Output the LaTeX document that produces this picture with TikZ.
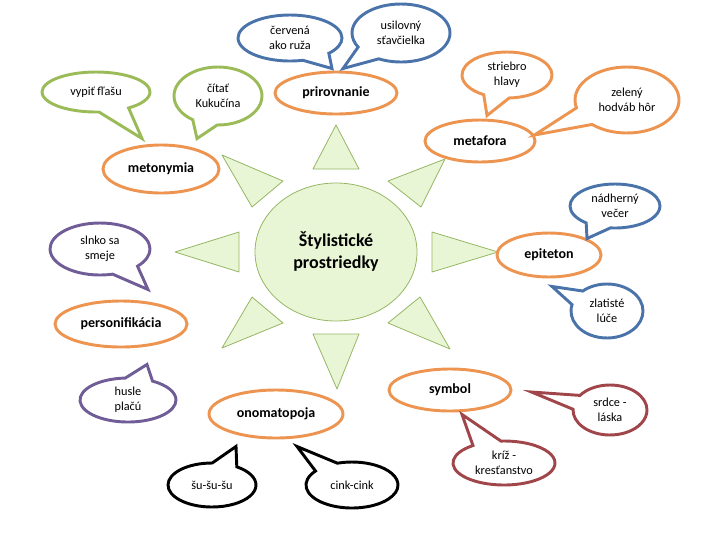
\documentclass[tikz,border=0pt]{standalone}
\usepackage{fontspec}
\setmainfont{Carlito}
\usepackage{xcolor}
\usetikzlibrary{shapes.geometric,shapes.callouts,calc}

\definecolor{termline}{RGB}{236,148,80}
\definecolor{blueline}{RGB}{74,115,170}
\definecolor{greenline}{RGB}{155,187,89}
\definecolor{purpleline}{RGB}{112,92,150}
\definecolor{redline}{RGB}{160,70,75}
\definecolor{sunfill}{RGB}{232,246,214}
\definecolor{sunline}{RGB}{150,182,100}

\tikzset{
  term/.style={ellipse, draw=termline, line width=2.2pt, fill=white, inner sep=0pt,
    font=\fontsize{10.5}{12}\selectfont\bfseries},
  bubble/.style={ellipse callout, line width=2.2pt, callout pointer arc=34, inner sep=0pt,
    align=center, font=\fontsize{9.2}{11.2}\selectfont},
  ray/.style={draw=sunline, fill=sunfill, line width=0.6pt, line join=round},
}

\begin{document}
\begin{tikzpicture}[x=0.75pt,y=0.75pt,yscale=-1,xscale=1]
\path (0,0) rectangle (720,540); %set diagram 720 x 540

%Shape: Triangle top
\draw [ray] (313,169) -- (359,169) -- (336,125) -- cycle ;
%Shape: Triangle bottom
\draw [ray] (313,334) -- (359,334) -- (337,389) -- cycle ;
%Shape: Triangle right
\draw [ray] (432,232) -- (432,272) -- (498,252) -- cycle ;
%Shape: Triangle left
\draw [ray] (239,232) -- (239,272) -- (175,252) -- cycle ;
%Shape: Triangle upper left
\draw [ray] (222,155) -- (283,181) -- (252,207) -- cycle ;
%Shape: Triangle upper right
\draw [ray] (445,159) -- (388,181) -- (421,207) -- cycle ;
%Shape: Triangle lower left
\draw [ray] (252,297) -- (283,323) -- (222,348) -- cycle ;
%Shape: Triangle lower right
\draw [ray] (388,323) -- (420,297) -- (450,349) -- cycle ;

%Shape: Ellipse sun
\node [ellipse, draw=sunline, fill=sunfill, line width=0.6pt, minimum width=121.5pt, minimum height=103.5pt,
  align=center, font=\fontsize{13.5}{16.5}\selectfont\bfseries] (core) at (336,252) {Štylistické\\prostriedky};

% Term Nodes
\node [term, minimum width=91.5pt, minimum height=31.5pt] (prirovnanie) at (336,93) {prirovnanie};
\node [term, minimum width=82.5pt, minimum height=31.5pt] (metafora) at (480,141) {metafora};
\node [term, minimum width=87pt, minimum height=36pt] (metonymia) at (161,169) {metonymia};
\node [term, minimum width=78pt, minimum height=33pt] (epiteton) at (549,255) {epiteton};
\node [term, minimum width=99pt, minimum height=34.5pt] (persona) at (121,324) {personifikácia};
\node [term, minimum width=100.5pt, minimum height=36pt] (onomatopoja) at (276,414) {onomatopoja};
\node [term, minimum width=91.5pt, minimum height=31.5pt] (symbol) at (450,390) {symbol};

% Callout Nodes
\node [bubble, draw=blueline, minimum width=78pt, minimum height=34.5pt,
  callout absolute pointer={($(prirovnanie.north)+(-4,-2)$)}] (cervena) at (290,38) {červená\\ako ruža};
\node [bubble, draw=blueline, minimum width=73.5pt, minimum height=43.5pt,
  callout absolute pointer={($(prirovnanie.north)+(7,-2)$)}] (usilovny) at (401,33) {usilovný\\sťavčielka};
\node [bubble, draw=greenline, minimum width=81pt, minimum height=30pt,
  callout absolute pointer={($(metonymia.north)+(-19,-5)$)}] (vypit) at (96,92) {vypiť fľašu};
\node [bubble, draw=greenline, minimum width=66pt, minimum height=43.5pt,
  callout absolute pointer={($(metonymia.north)+(36,-5)$)}] (citat) at (218,96) {čítať\\Kukučína};
\node [bubble, draw=termline, minimum width=67.5pt, minimum height=34.5pt,
  callout absolute pointer={($(metafora.north)+(7,-3)$)}] (striebro) at (507,75) {striebro\\hlavy};
\node [bubble, draw=termline, minimum width=78pt, minimum height=49.5pt,
  callout absolute pointer={($(metafora.east)+(-2,-6)$)}] (zeleny) at (627,100) {zelený\\hodváb hôr};
\node [bubble, draw=purpleline, minimum width=75pt, minimum height=39pt,
  callout absolute pointer={($(persona.north)+(27,-10)$)}] (slnko) at (100,249) {slnko sa\\smeje};
\node [bubble, draw=blueline, minimum width=67.5pt, minimum height=33pt,
  callout absolute pointer={($(epiteton.north)+(38,7)$)}] (nadherny) at (615,206) {nádherný\\večer};
\node [bubble, draw=blueline, minimum width=54pt, minimum height=40.5pt,
  callout absolute pointer={($(epiteton.south)+(3,8)$)}] (zlatiste) at (607,311) {zlatisté\\lúče};
\node [bubble, draw=purpleline, minimum width=72pt, minimum height=33pt,
  callout absolute pointer={($(persona.south)+(26,16)$)}] (husle) at (128,400) {husle\\plačú};
\node [bubble, draw=black, minimum width=66pt, minimum height=33pt,
  callout absolute pointer={($(onomatopoja.south)+(-40,7)$)}] (susu) at (212,485) {šu-šu-šu};
\node [bubble, draw=black, minimum width=69pt, minimum height=34.5pt,
  callout absolute pointer={($(onomatopoja.south)+(21,7)$)}] (cink) at (352,485) {cink-cink};
\node [bubble, draw=redline, minimum width=76.5pt, minimum height=33pt,
  callout absolute pointer={($(symbol.south)+(12,2)$)}] (kriz) at (504,463) {kríž -\\kresťanstvo};
\node [bubble, draw=redline, minimum width=55.5pt, minimum height=37.5pt,
  callout absolute pointer={($(symbol.east)+(19,2)$)}] (srdce) at (610,410) {srdce -\\láska};

\end{tikzpicture}
\end{document}
